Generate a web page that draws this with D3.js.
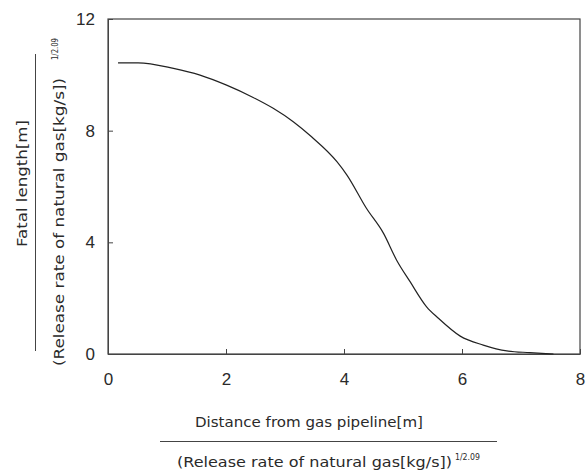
<!DOCTYPE html>
<html>
<head>
<meta charset="utf-8">
<script src="https://cdn.jsdelivr.net/npm/d3@7"></script>
<style>
body { margin: 0; background: #fff; }
text { font-family: "DejaVu Sans", sans-serif; fill: #2a2a2a; }
</style>
</head>
<body>
<div id="chart"></div>
<script>
// scaled distance vs scaled fatal length
var distance = [0.17, 0.51, 1.11, 1.56, 2.01, 2.46, 2.80, 3.14, 3.45, 3.88, 4.05, 4.38, 4.67, 4.89, 5.12, 5.40, 5.60, 5.97, 6.36, 6.76, 7.15, 7.55];
var fatal = [10.43, 10.43, 10.23, 9.99, 9.63, 9.19, 8.80, 8.32, 7.78, 6.89, 6.41, 5.22, 4.32, 3.37, 2.59, 1.69, 1.28, 0.64, 0.32, 0.11, 0.05, 0.0];
var xTicks = [0, 2, 4, 6, 8];
var yTicks = [0, 4, 8, 12];

var width = 586;
var height = 472;
var marginLeft = 108;
var marginTop = 19;
var marginRight = 6;
var marginBottom = 118;

var chartWidth = width - marginLeft - marginRight;
var chartHeight = height - marginTop - marginBottom;

var svg = d3.select("#chart").append("svg")
    .attr("width", width)
    .attr("height", height);

var chart = svg.append("g")
    .attr("transform", "translate(" + marginLeft + ", " + marginTop + ")");

var xScale = d3.scaleLinear().domain([0, 8]).range([0, chartWidth]);
var yScale = d3.scaleLinear().domain([0, 12]).range([chartHeight, 0]);

// frame
chart.append("rect")
    .attr("width", chartWidth)
    .attr("height", chartHeight)
    .attr("fill", "none")
    .attr("stroke", "#444")
    .attr("stroke-width", 1.2);

// axes, ticks pointing inwards
var xAxis = d3.axisBottom(xScale).tickValues(xTicks).tickSizeInner(-5).tickSizeOuter(0).tickPadding(19);
var yAxis = d3.axisLeft(yScale).tickValues(yTicks).tickSizeInner(-5).tickSizeOuter(0).tickPadding(13);

var gx = chart.append("g")
    .attr("transform", "translate(0, " + chartHeight + ")")
    .call(xAxis);
var gy = chart.append("g").call(yAxis);

[gx, gy].forEach(function(g) {
    g.select(".domain").attr("stroke", "#444");
    g.selectAll(".tick line").attr("stroke", "#444");
    g.selectAll(".tick text")
        .style("font-size", "17px")
        .style("font-family", "Liberation Sans, Arial, sans-serif")
        .attr("fill", "#333");
});

// curve
var points = distance.map(function(d, i) { return [d, fatal[i]]; });
var line = d3.line()
    .x(function(d) { return xScale(d[0]); })
    .y(function(d) { return yScale(d[1]); })
    .curve(d3.curveMonotoneX);

chart.append("path")
    .datum(points)
    .attr("d", line)
    .attr("fill", "none")
    .attr("stroke", "#222")
    .attr("stroke-width", 1.2);

// helper for stretched label text
function label(g, x, y, size, len, str) {
    return g.append("text")
        .attr("x", x).attr("y", y)
        .attr("textLength", len)
        .attr("lengthAdjust", "spacingAndGlyphs")
        .style("font-size", size + "px")
        .text(str);
}

// x title as a fraction
var xt = svg.append("g");
label(xt, 195, 427, 13.5, 228, "Distance from gas pipeline[m]");
xt.append("line")
    .attr("x1", 160).attr("x2", 497)
    .attr("y1", 441.5).attr("y2", 441.5)
    .attr("stroke", "#444");
label(xt, 177, 467, 13.5, 275, "(Release rate of natural gas[kg/s])");
label(xt, 455, 460, 8, 25, "1/2.09");

// y title as a fraction, rotated
var yt = svg.append("g")
    .attr("transform", "rotate(-90)");
label(yt, -247, 27, 14, 127, "Fatal length[m]");
yt.append("line")
    .attr("x1", -351).attr("x2", -54)
    .attr("y1", 35.5).attr("y2", 35.5)
    .attr("stroke", "#444");
label(yt, -366, 64, 14, 288, "(Release rate of natural gas[kg/s])");
label(yt, -60, 58, 8, 22, "1/2.09");
</script>
</body>
</html>
